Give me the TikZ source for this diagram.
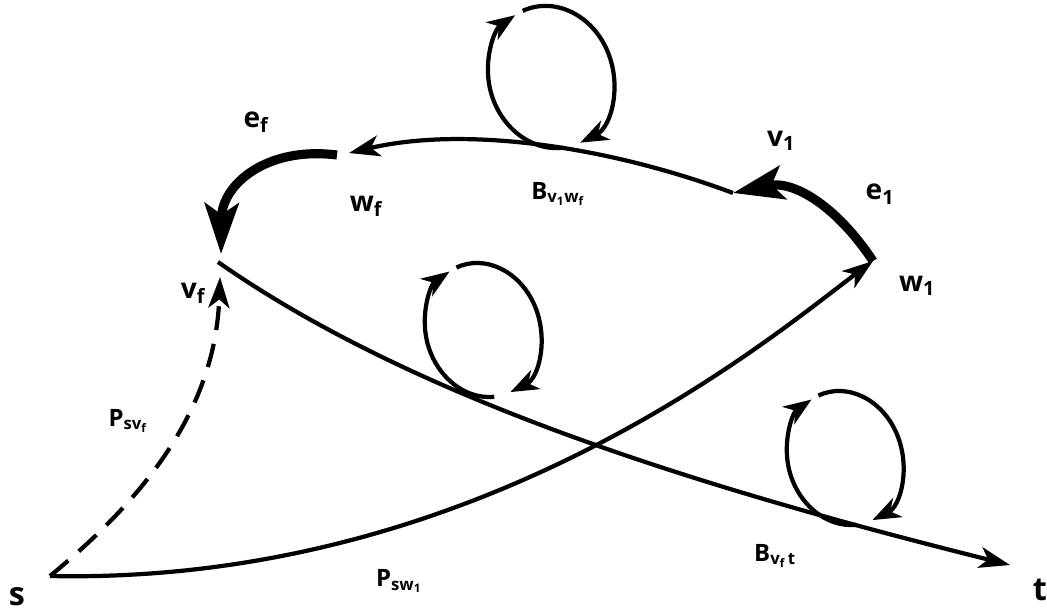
\documentclass[tikz,border=0pt]{standalone}
\usepackage{fontspec}
\setmainfont{Open Sans}
\usetikzlibrary{arrows.meta}
\newcommand\drawloop[5]{%
  \begin{scope}[shift={(#1,#2)},rotate=#5]
  \draw[loopline,looptip] (100:#3 and #4) arc[start angle=100,end angle=256,x radius=#3,y radius=#4];
  \draw[loopline,looptip] (264:#3 and #4) arc[start angle=264,end angle=443,x radius=#3,y radius=#4];
  \end{scope}
}
\begin{document}
\begin{tikzpicture}[x=0.025cm,y=-0.025cm,
  edge/.style={line width=3pt},
  thickedge/.style={line width=6.5pt},
  loopline/.style={line width=3pt},
  looptip/.style={-{Stealth[length=20pt,width=15pt,inset=6pt]}},
  tip/.style={-{Stealth[length=22pt,width=15pt,inset=6pt]}},
  bigtip/.style={-{Stealth[length=36pt,width=24pt,inset=8pt]}},
  lbl/.style={font=\bfseries\fontsize{20}{24}\selectfont, inner sep=0pt},
  blbl/.style={font=\bfseries\fontsize{17}{20}\selectfont, inner sep=0pt},
  big/.style={font=\bfseries\fontsize{23}{27}\selectfont, inner sep=0pt}]
\useasboundingbox (0,0) rectangle (1047,614);
% points
\coordinate (s) at (50,576);
\coordinate (t) at (1010,565);
\coordinate (vf) at (218,262);
\coordinate (vfin) at (221,254);
\coordinate (vfdash) at (220,277);
\coordinate (wfout) at (337,155);
\coordinate (wfin) at (349,153);
\coordinate (v1) at (733,193);
\coordinate (w1) at (873,261);
% paths
\draw[edge,tip] (s) .. controls (480,585) and (770,338) .. (w1);
\draw[edge,tip] (vf) .. controls (418,402) and (710,490) .. (t);
\draw[edge,tip,dash pattern=on 17pt off 10pt] (s) .. controls (130,510) and (215,420) .. (vfdash);
\draw[edge,tip] (v1) .. controls (613,148) and (468,125) .. (wfin);
\draw[thickedge,bigtip] (wfout) .. controls (266,146) and (222,185) .. (vfin);
\draw[thickedge,bigtip] (w1) .. controls (838,208) and (795,180) .. (v1);
% loops
\drawloop{551}{77}{62}{72}{18}
\drawloop{483}{330}{57}{68}{18}
\drawloop{845}{458}{57}{68}{18}
% labels
\node[lbl] (lef) at (256,122) {e\textsubscript{f}};
\node[lbl] (lwf) at (366,206) {w\textsubscript{f}};
\node[lbl] (lvf) at (193,293) {v\textsubscript{f}};
\node[lbl] (lv1) at (781,141) {v\textsubscript{1}};
\node[lbl] (le1) at (880,194) {e\textsubscript{1}};
\node[lbl] (lw1) at (917,286) {w\textsubscript{1}};
\node[blbl] (lbv1) at (558,194) {B\textsubscript{v\textsubscript{1}w\textsubscript{f}}};
\node[blbl] (lbvf) at (775,556) {B\textsubscript{v\textsubscript{f}\,t}};
\node[blbl] (lpsv) at (128,421) {P\textsubscript{sv\textsubscript{f}}};
\node[blbl] (lpsw) at (399,581) {P\textsubscript{sw\textsubscript{1}}};
\node[big] (ls) at (17,597) {s};
\node[big] (lt) at (1040,590) {t};
\end{tikzpicture}
\end{document}
